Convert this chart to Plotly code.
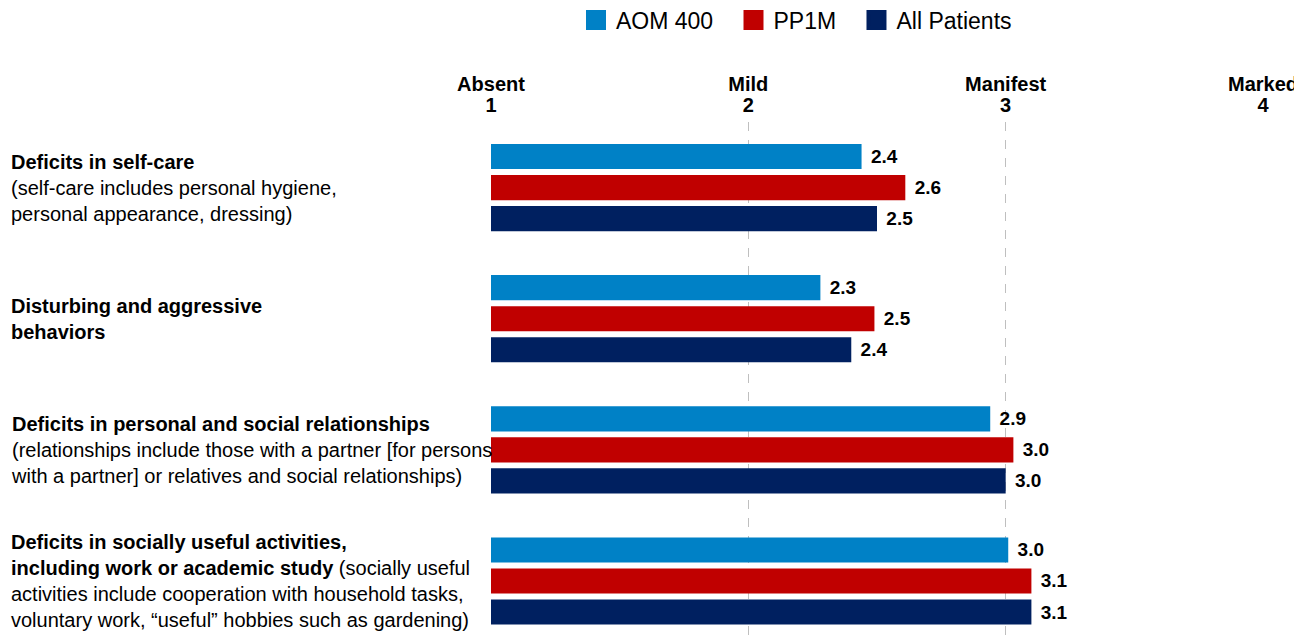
import plotly.graph_objects as go

categories = ["selfcare", "disturbing", "relationships", "activities"]
category_labels = [
    "<b>Deficits in self-care</b><br>(self-care includes personal hygiene,<br>personal appearance, dressing)",
    "<b>Disturbing and aggressive</b><br><b>behaviors</b>",
    "<b>Deficits in personal and social relationships</b><br>(relationships include those with a partner [for persons<br>with a partner] or relatives and social relationships)",
    "<b>Deficits in socially useful activities,</b><br><b>including work or academic study</b> (socially useful<br>activities include cooperation with household tasks,<br>voluntary work, \u201cuseful\u201d hobbies such as gardening)",
]
series_names = ["AOM 400", "PP1M", "All Patients"]
aom400 = [2.44, 2.28, 2.94, 3.01]
pp1m = [2.61, 2.49, 3.03, 3.10]
all_patients = [2.50, 2.40, 3.00, 3.10]
series_values = [aom400, pp1m, all_patients]
colors = ["#0081C6", "#C00000", "#002060"]
tick_values = [1, 2, 3, 4]
tick_labels = ["Absent", "Mild", "Manifest", "Marked"]
axis_start = 1

FONT = "Liberation Sans, Arial, sans-serif"

W, H = 1294, 632
ML, MR, MT, MB = 483, 39, 114, 0
PW = W - ML - MR

fig = go.Figure()
for name, vals, col in zip(series_names, series_values, colors):
    fig.add_trace(go.Bar(
        y=categories, x=[v - axis_start for v in vals], base=axis_start,
        orientation="h", name=name,
        marker=dict(color=col, line=dict(width=0)),
        text=[f"{v:.1f}" for v in vals],
        texttemplate="\u2004<b>%{text}</b>",
        textposition="outside", cliponaxis=False,
        textfont=dict(family=FONT, size=19, color="#000000"),
        showlegend=False,
    ))

# legend entries
for name, col in zip(series_names, colors):
    fig.add_trace(go.Scatter(
        x=[None], y=[None], mode="markers", name=name + "\u2004\u2004",
        marker=dict(symbol="square", size=16, color=col, line=dict(color=col, width=4)),
        showlegend=True,
    ))

# invisible trace so the top word-label axis is drawn
fig.add_trace(go.Scatter(
    x=[None], y=[None], xaxis="x2", yaxis="y", mode="markers",
    showlegend=False, hoverinfo="skip",
))

for cat, lab in zip(categories, category_labels):
    fig.add_annotation(
        x=-(ML - 1) / PW, xref="paper", y=cat, yref="y",
        xanchor="left", yanchor="middle", align="left",
        text=lab, showarrow=False,
        font=dict(family=FONT, size=20, color="#000000"),
    )

fig.update_layout(
    width=W, height=H,
    margin=dict(l=ML, r=MR, t=MT, b=MB),
    paper_bgcolor="white", plot_bgcolor="white",
    barmode="group", bargap=0.29, bargroupgap=0.19,
    font=dict(family=FONT, color="#000000"),
    legend=dict(
        orientation="h", x=(568 - ML) / PW, xanchor="left",
        yref="container", y=1 - 12 / H, yanchor="middle",
        font=dict(family=FONT, size=23, color="#000000"),
        itemwidth=30, tracegroupgap=0,
    ),
    xaxis=dict(
        side="top", range=[1, 4], tickvals=tick_values,
        ticktext=[f"<b>{v}</b>" for v in tick_values],
        tickfont=dict(family=FONT, size=20, color="#000000"),
        ticklabelstandoff=5,
        showgrid=True, gridcolor="#BFBFBF", griddash="dash", gridwidth=1,
        zeroline=False, showline=False, ticks="",
    ),
    xaxis2=dict(
        overlaying="x", matches="x", side="top", range=[1, 4],
        tickvals=tick_values,
        ticktext=[f"<b>{t}</b>" for t in tick_labels],
        tickfont=dict(family=FONT, size=20, color="#000000"),
        ticklabelstandoff=26,
        showgrid=False, zeroline=False, showline=False, ticks="",
    ),
    yaxis=dict(
        categoryorder="array", categoryarray=categories,
        range=[3.45, -0.5], showticklabels=False, showgrid=False,
        zeroline=False, showline=False, ticks="",
    ),
)

fig.write_html("out.html")
